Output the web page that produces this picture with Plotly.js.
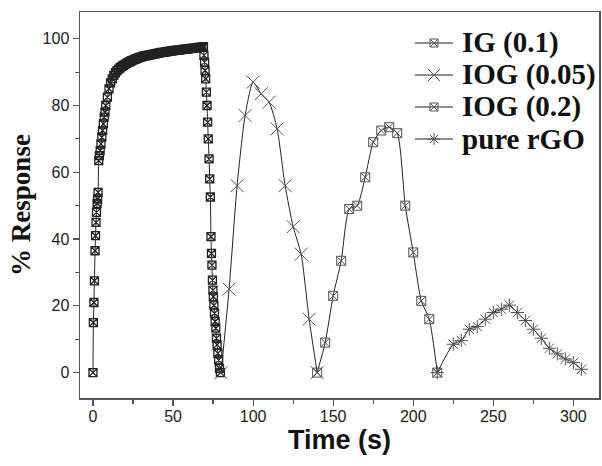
<!DOCTYPE html>
<html>
<head>
<meta charset="utf-8">
<script src="https://cdn.plot.ly/plotly-3.0.1.min.js"></script>
<style>html,body{margin:0;padding:0;background:#fff;}#chart{width:602px;height:466px;}</style>
</head>
<body>
<div id="chart"></div>
<script>
// IG (0.1): rise, plateau, fall
const igTime = [0,0.25,0.6,0.9,1.3,1.6,1.9,2.2,2.6,2.9,3.2,3.6,4,4.5,5,5.5,6,6.5,7,7.5,8,9,
  10,11,12,13,14,15,16,17,18,19,20,21,22,23,24,25,26,27,28,29,30,31,32,33,34,35,36,37,38,39,
  40,41,42,43,44,45,46,47,48,49,50,51,52,53,54,55,56,57,58,59,60,61,62,63,64,65,66,67,68,69,
  69.3,69.7,70,70.4,70.8,71.2,71.6,72,72.5,72.9,73.3,73.7,74,74.3,74.6,74.9,75.2,75.5,75.9,76.3,76.7,77.1,77.5,78,78.5,79,79.6];
const igResp = [0,15,21,27.5,36.5,41,45,48,50.7,52,54,63.5,65,66.5,68.5,70.5,72.5,74.5,76.5,78,80,82.5,
  85,86.8,88,89,89.8,90.4,90.9,91.3,91.7,92,92.3,92.6,92.9,93.1,93.4,93.6,93.8,94,94.2,94.4,94.5,94.7,94.8,94.9,95,95.1,95.2,95.3,95.4,95.5,
  95.6,95.7,95.8,95.9,95.9,96,96.1,96.2,96.3,96.3,96.4,96.5,96.5,96.6,96.6,96.7,96.8,96.8,96.9,96.9,97,97.1,97.1,97.2,97.2,97.3,97.4,97.4,97.5,97.6,
  95,93,90.5,88,84,80,75,70,64,58,52.6,40.7,35.7,32.2,27.7,24.7,22.7,20.2,17.8,15.3,13.3,10.3,8.3,5.8,3.8,1.3,0];

// IOG (0.05)
const iog005Time = [80,85,90,95,100,105,110,115,120,125,130,135,140];
const iog005Resp = [0,25,56,77,87,83.5,81,73,56,43.7,35.5,16,0];

// IOG (0.2)
const iog02Time = [140,145,150,155,160,165,170,175,180,185,190,195,200,205,210,215];
const iog02Resp = [0,9,23,33.5,49,50,58.5,69,72.5,73.5,71.7,50,36,21.5,16,0];

// pure rGO
const rgoTime = [215,225,230,235,240,245,250,255,260,265,270,275,280,285,290,295,300,305];
const rgoResp = [0,8.5,9.6,13,13.8,16,18,19,20.2,18,15.6,13,10.3,7.3,5.6,4.1,3,1];

const seriesNames = ['IG (0.1)','IOG (0.05)','IOG (0.2)','pure rGO'];
const symbols = ['square-x-open','x-thin-open','square-x-open','asterisk-open'];
const symSizes = [9, 13, 9, 11];
const markerColors = ['#222','#555','#555','#555'];
const markerWidths = [1.3, 1, 1, 1];

const lineStyle = {color:'#222', width:1, shape:'spline', smoothing:0.6};
function mk(i, x, y){
  return {
    type:'scatter', mode:'lines+markers', name:seriesNames[i], x:x, y:y,
    line: lineStyle, hoverinfo:'skip',
    marker:{symbol:symbols[i], size:symSizes[i]-(i===0?1:0), color:markerColors[i], line:{color:markerColors[i], width:markerWidths[i]}}
  };
}
const data = [
  mk(0, igTime, igResp),
  mk(1, iog005Time, iog005Resp),
  mk(2, iog02Time, iog02Resp),
  mk(3, rgoTime, rgoResp)
];

// legend (drawn in paper-like overlay axes)
const legX0 = 0.6455, legX1 = 0.7187, legXm = 0.6821, legTextX = 0.7322;
const legRows = [0.9197, 0.8368, 0.7539, 0.6710];
const annotations = [];
seriesNames.forEach(function(name, i){
  data.push({
    type:'scatter', mode:'lines+markers', xaxis:'x2', yaxis:'y2', showlegend:false, hoverinfo:'skip',
    x:[legX0, legXm, legX1], y:[legRows[i], legRows[i], legRows[i]],
    line:{color:'#222', width:1},
    marker:{symbol:symbols[i], size:symSizes[i]-1, color:'#555', opacity:[0,1,0], line:{color:'#555', width:1}}
  });
  annotations.push({
    xref:'paper', yref:'paper', x:legTextX, y:legRows[i], xanchor:'left', yanchor:'middle',
    text:'<b>'+name+'</b>', showarrow:false,
    font:{family:'Liberation Serif, Times New Roman, serif', size:29, color:'#111'}
  });
});

const axisCommon = {
  showgrid:false, zeroline:false, showline:true, linecolor:'#555', linewidth:1.5, mirror:true,
  ticks:'outside', ticklen:6, tickwidth:1.2, tickcolor:'#555',
  tickfont:{family:'Liberation Sans, Arial, sans-serif', size:16, color:'#222'}
};
const layout = {
  width:602, height:466,
  margin:{l:80, r:3, t:12, b:68},
  paper_bgcolor:'#fff', plot_bgcolor:'#fff',
  showlegend:false,
  annotations: annotations,
  xaxis: Object.assign({}, axisCommon, {
    range:[-8.1, 316], tickmode:'array', tickvals:[0,50,100,150,200,250,300],
    ticklabelstandoff:-3,
    minor:{ticks:'outside', ticklen:4, tickcolor:'#555', dtick:25, tick0:0},
    title:{text:'<b>Time (s)</b>', font:{family:'Liberation Sans, Arial, sans-serif', size:27, color:'#111'}, standoff:2}
  }),
  yaxis: Object.assign({}, axisCommon, {
    range:[-7.6, 108], tickmode:'array', tickvals:[0,20,40,60,80,100],
    minor:{ticks:'outside', ticklen:4, tickcolor:'#555', dtick:10, tick0:0},
    title:{text:'<b>% Response</b>', font:{family:'Liberation Serif, Times New Roman, serif', size:27, color:'#111'}, standoff:4}
  }),
  xaxis2:{overlaying:'x', range:[0,1], visible:false, fixedrange:true},
  yaxis2:{overlaying:'y', range:[0,1], visible:false, fixedrange:true}
};
Plotly.newPlot('chart', data, layout, {displayModeBar:false, staticPlot:true});
</script>
</body>
</html>
